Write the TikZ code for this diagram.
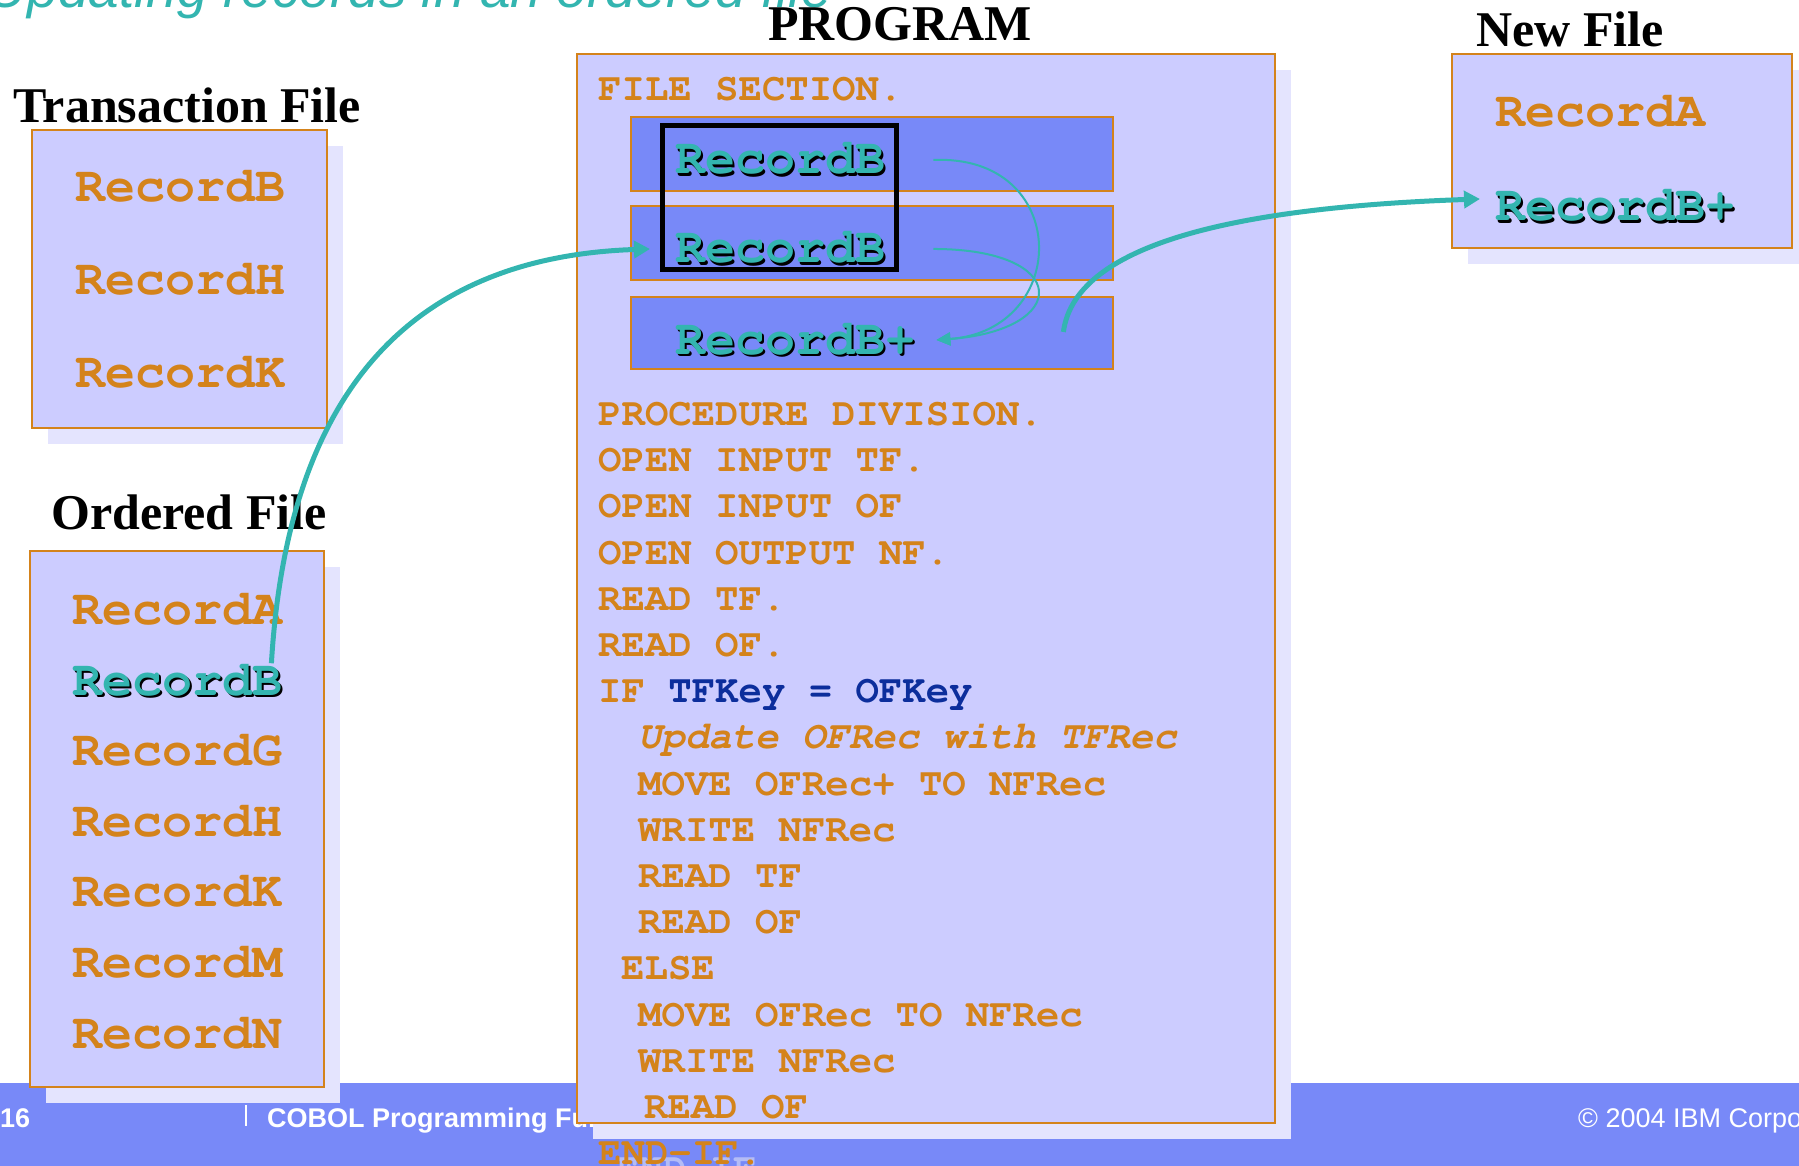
\documentclass[tikz,border=0pt]{standalone}
\usepackage[T1]{fontenc}
\usepackage{fontspec}
\setmainfont{Liberation Serif}
\newcommand\codefont{\fontencoding{T1}\fontfamily{pcr}\selectfont}
\newfontfamily\slidefont{Liberation Sans}
\usetikzlibrary{arrows.meta}
\definecolor{lav}{HTML}{CCCCFF}
\definecolor{recblue}{HTML}{7889F8}
\definecolor{orng}{HTML}{D4831B}
\definecolor{tealc}{HTML}{33B5B0}
\definecolor{navy}{HTML}{0C2E9C}
\definecolor{shadowlav}{HTML}{E4E4FE}
\definecolor{ghost}{HTML}{B4BCF6}
\newcommand\embossrec[1]{\makebox[0pt][l]{\hspace{2.5pt}\raisebox{-2.5pt}{\color{black}#1}}#1}

\begin{document}
\begin{tikzpicture}[x=1pt,y=-1pt,
    filebox/.style={draw=orng,line width=2.5pt,fill=lav},
    recstrip/.style={draw=orng,line width=2.5pt,fill=recblue},
    heading/.style={anchor=base west,inner sep=0pt,font=\fontsize{50}{50}\selectfont\bfseries},
    rec/.style={anchor=base west,inner sep=0pt,text=orng,font=\codefont\fontsize{50}{50}\selectfont\bfseries},
    hotrec/.style={rec,text=tealc},
    code/.style={anchor=base west,inner sep=0pt,text=orng,font=\codefont\fontsize{39}{39}\selectfont\bfseries},
    footer/.style={anchor=base west,inner sep=0pt,text=white,font=\slidefont\fontsize{27}{27}\selectfont},
    bigarrow/.style={draw=tealc,line width=5pt,-{Triangle[length=16pt,width=17pt]}},
    thinarrow/.style={draw=tealc,line width=2pt,-{Triangle[length=14pt,width=13pt]}}]
  \useasboundingbox (0,0) rectangle (1799,1166);
  \clip (0,0) rectangle (1799,1166);

  \fill[recblue] (0,1083) rectangle (1799,1166);
  \node[footer] (pagenum) at (0,1127) {\bfseries 16};
  \draw[white,line width=1.2pt] (246,1105) -- (246,1126);
  \node[footer] (course) at (267,1127) {\bfseries COBOL Programming Fundamentals};
  \node[footer] (copyright) at (1578,1127) {© 2004 IBM Corporation};

  \node[anchor=base east,inner sep=0pt,text=tealc,font=\slidefont\itshape\fontsize{55}{55}\selectfont] (title) at (832,8) {Updating records in an ordered file};

  \node[heading] (tfhead) at (13,123) {Transaction File};
  \node[heading] (ofhead) at (51,529) {Ordered File};
  \node[heading] (proghead) at (768,41) {PROGRAM};
  \node[heading] (nfhead) at (1476,47) {New File};

  \fill[shadowlav] (48,146) rectangle (343,444);
  \fill[shadowlav] (46,567) rectangle (340,1103);
  \fill[shadowlav] (593,70) rectangle (1291,1139);
  \fill[shadowlav] (1468,70) rectangle (1808,264);

  \draw[filebox] (32,130) rectangle (327,428);
  \draw[filebox] (30,551) rectangle (324,1087);
  \draw[filebox] (577,54) rectangle (1275,1123);
  \draw[filebox] (1452,54) rectangle (1792,248);

  \draw[recstrip] (631,117) rectangle (1113,191);
  \draw[recstrip] (631,206) rectangle (1113,280);
  \draw[recstrip] (631,297) rectangle (1113,369);
  \draw[line width=5pt] (662,126) rectangle (896,270);

  \node[rec] (tfB) at (75,202) {RecordB};
  \node[rec] (tfH) at (75,295) {RecordH};
  \node[rec] (tfK) at (75,387) {RecordK};

  \node[rec] (ofA) at (72,624) {RecordA};
  \node[hotrec] (ofB) at (72,695) {\embossrec{RecordB}};
  \node[rec] (ofG) at (72,765) {RecordG};
  \node[rec] (ofH) at (72,836) {RecordH};
  \node[rec] (ofK) at (72,906) {RecordK};
  \node[rec] (ofM) at (72,977) {RecordM};
  \node[rec] (ofN) at (72,1048) {RecordN};

  \node[code] (filesec) at (598,101) {FILE SECTION.};
  \node[hotrec] (pB1) at (675,174) {\embossrec{RecordB}};
  \node[hotrec] (pB2) at (675,263) {\embossrec{RecordB}};
  \node[hotrec] (pB3) at (675,354) {\embossrec{RecordB+}};

  \node[code] (procdiv) at (598,425) {PROCEDURE DIVISION.};
  \node[code] (opentf) at (598,471) {OPEN INPUT TF.};
  \node[code] (openof) at (598,517) {OPEN INPUT OF};
  \node[code] (opennf) at (598,564) {OPEN OUTPUT NF.};
  \node[code] (readtf) at (598,610) {READ TF.};
  \node[code] (readof) at (598,656) {READ OF.};
  \node[code] (ifline) at (598,702) {IF \textcolor{navy}{TFKey = OFKey}};
  \node[code] (update) at (638,748) {\itshape Update OFRec with TFRec};
  \node[code] (moveplus) at (638,795) {MOVE OFRec+ TO NFRec};
  \node[code] (writeA) at (638,841) {WRITE NFRec};
  \node[code] (readtfA) at (638,887) {READ TF};
  \node[code] (readofA) at (638,933) {READ OF};
  \node[code] (elseline) at (621,979) {ELSE};
  \node[code] (moveB) at (638,1026) {MOVE OFRec TO NFRec};
  \node[code] (writeB) at (638,1072) {WRITE NFRec};
  \node[code] (readofB) at (644,1118) {READ OF};
  \node[code,text=ghost] (endifghost) at (616,1180) {END-IF.};
  \node[code] (endif) at (598,1164) {END-IF.};

  \node[rec] (nfA) at (1495,127) {RecordA};
  \node[hotrec] (nfB) at (1495,221) {\embossrec{RecordB+}};

  \draw[thinarrow] ([xshift=48pt]pB1.east) .. controls +(138,-6) and +(135,-10) .. ([xshift=21pt]pB3.east);
  \draw[thinarrow] ([xshift=48pt]pB2.east) .. controls +(138,0) and +(135,-10) .. ([xshift=21pt]pB3.east);
  \draw[bigarrow] ([xshift=-11pt]ofB.north east) .. controls +(14,-233) and +(-270,9) .. ([xshift=-25pt]pB2.west);
  \draw[bigarrow] ([xshift=148pt,yshift=8pt]pB3.east) .. controls +(12,-92) and +(-230,8) .. ([xshift=-15pt,yshift=8pt]nfB.west);
\end{tikzpicture}
\end{document}
